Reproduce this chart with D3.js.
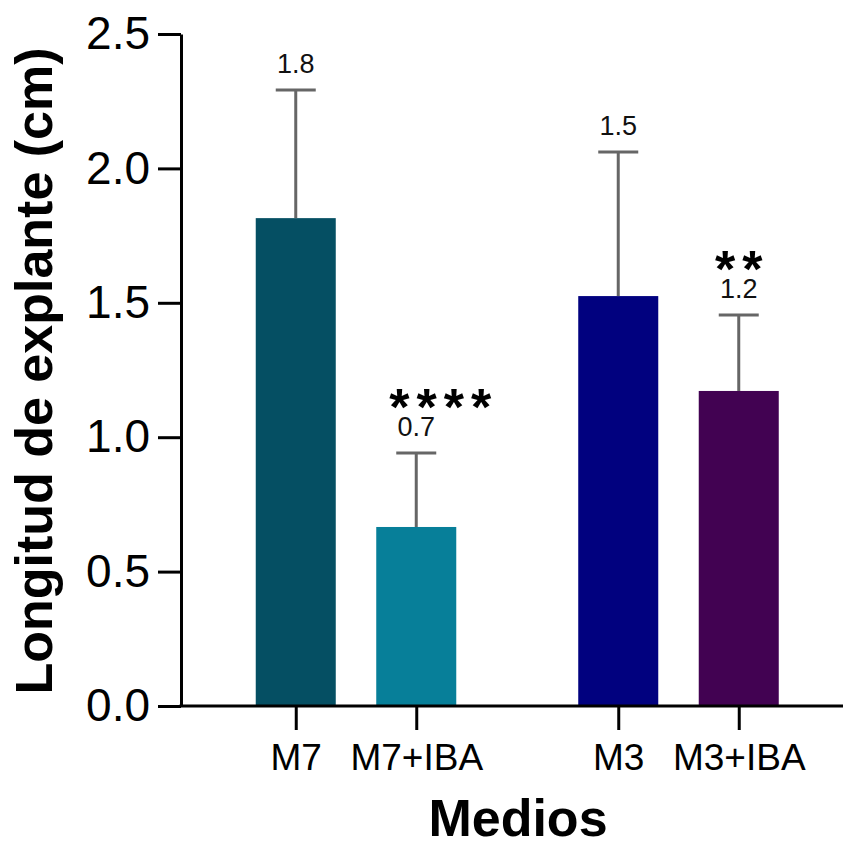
<!DOCTYPE html>
<html>
<head>
<meta charset="utf-8">
<script src="https://cdn.jsdelivr.net/npm/d3@7"></script>
<style>
  html, body { margin: 0; padding: 0; background: #fff; }
  svg { display: block; font-family: "Liberation Sans", Arial, sans-serif; }
</style>
</head>
<body>
<svg id="chart" width="843" height="846"></svg>
<script>
// ---- data ----
const groups = ["M7", "M3"];
const categories = ["M7", "M7+IBA", "M3", "M3+IBA"];
const categoryGroup = ["M7", "M7", "M3", "M3"];
const subKeys = ["base", "iba", "base", "iba"];
const means = [1.815, 0.666, 1.525, 1.172];
const sds = [0.477, 0.275, 0.536, 0.283];
const valueLabels = ["1.8", "0.7", "1.5", "1.2"];
const significance = ["", "****", "", "**"];
const colors = ["#054f63", "#077f99", "#01017f", "#420252"];
const yTicks = [0, 0.5, 1.0, 1.5, 2.0, 2.5];

// ---- layout ----
const svg = d3.select("#chart");
const mLeft = 181, mRight = 843, mTop = 34, mBottom = 706;

const y = d3.scaleLinear().domain([0, 2.5]).range([mBottom, mTop]);
const xOuter = d3.scaleBand().domain(groups).range([235.5, 799]).paddingInner(0.2527);
const xInner = d3.scaleBand().domain(["base", "iba"]).range([0, xOuter.bandwidth()])
  .paddingInner(0.336).paddingOuter(0.168);
const xPos = (i) => xOuter(categoryGroup[i]) + xInner(subKeys[i]);
const xCenter = d3.scaleOrdinal().domain(categories)
  .range(categories.map((c, i) => xPos(i) + xInner.bandwidth() / 2));

const data = categories.map((c, i) => ({
  c, i, mean: means[i], sd: sds[i], label: valueLabels[i], sig: significance[i], color: colors[i]
}));

// bars
svg.append("g").selectAll("rect").data(data).join("rect")
  .attr("x", d => xPos(d.i))
  .attr("width", xInner.bandwidth())
  .attr("y", d => y(d.mean))
  .attr("height", d => y(0) - y(d.mean))
  .attr("fill", d => d.color);

// error bars
const eb = svg.append("g").attr("stroke", "#666666").attr("stroke-width", 3);
eb.selectAll("line.v").data(data).join("line").attr("class", "v")
  .attr("x1", d => xCenter(d.c)).attr("x2", d => xCenter(d.c))
  .attr("y1", d => y(d.mean)).attr("y2", d => y(d.mean + d.sd));
eb.selectAll("line.h").data(data).join("line").attr("class", "h")
  .attr("x1", d => xCenter(d.c) - 20).attr("x2", d => xCenter(d.c) + 20)
  .attr("y1", d => y(d.mean + d.sd)).attr("y2", d => y(d.mean + d.sd));

// value labels
svg.append("g").selectAll("text").data(data).join("text")
  .attr("x", d => xCenter(d.c))
  .attr("y", d => y(d.mean + d.sd) - 17)
  .attr("text-anchor", "middle")
  .attr("font-size", 27)
  .attr("fill", "#111")
  .text(d => d.label);

// significance stars (the longer marker sits a little right of its bar in the original)
const starSpacing = 7;
svg.append("g").selectAll("text").data(data.filter(d => d.sig)).join("text")
  .attr("x", d => xCenter(d.c) + starSpacing / 2 + (d.sig.length > 2 ? 24 : 0))
  .attr("y", d => y(d.mean + d.sd) - 28)
  .attr("text-anchor", "middle")
  .attr("font-size", 52)
  .attr("font-weight", "bold")
  .attr("letter-spacing", starSpacing)
  .attr("fill", "#000")
  .text(d => d.sig);

// y axis
const yAxis = d3.axisLeft(y).tickValues(yTicks).tickFormat(d3.format(".1f"))
  .tickSize(23).tickPadding(8).tickSizeOuter(0);
const gy = svg.append("g").attr("transform", `translate(${mLeft},0)`).call(yAxis);
gy.select(".domain").attr("stroke", "#000").attr("stroke-width", 3);
gy.selectAll(".tick line").attr("stroke", "#000").attr("stroke-width", 3);
gy.selectAll(".tick text").attr("font-size", 46).attr("fill", "#000")
  .attr("font-family", "Liberation Sans, Arial, sans-serif");

// x axis
const xAxis = d3.axisBottom(xCenter).tickSize(24).tickPadding(14);
const gx = svg.append("g").attr("transform", `translate(0,${mBottom})`).call(xAxis);
gx.select(".domain").remove();
gx.selectAll(".tick line").attr("stroke", "#000").attr("stroke-width", 3);
gx.selectAll(".tick text").attr("font-size", 37).attr("fill", "#000")
  .attr("font-family", "Liberation Sans, Arial, sans-serif");
svg.append("line").attr("x1", mLeft - 1.5).attr("x2", mRight).attr("y1", mBottom).attr("y2", mBottom)
  .attr("stroke", "#000").attr("stroke-width", 3);

// axis titles
svg.append("text")
  .attr("transform", `translate(52,${(mTop + mBottom) / 2 + 1}) rotate(-90)`)
  .attr("text-anchor", "middle")
  .attr("font-size", 52).attr("font-weight", "bold").attr("fill", "#000")
  .text("Longitud de explante (cm)");
svg.append("text")
  .attr("x", 518).attr("y", 836)
  .attr("text-anchor", "middle")
  .attr("font-size", 52).attr("font-weight", "bold").attr("fill", "#000")
  .text("Medios");
</script>
</body>
</html>
